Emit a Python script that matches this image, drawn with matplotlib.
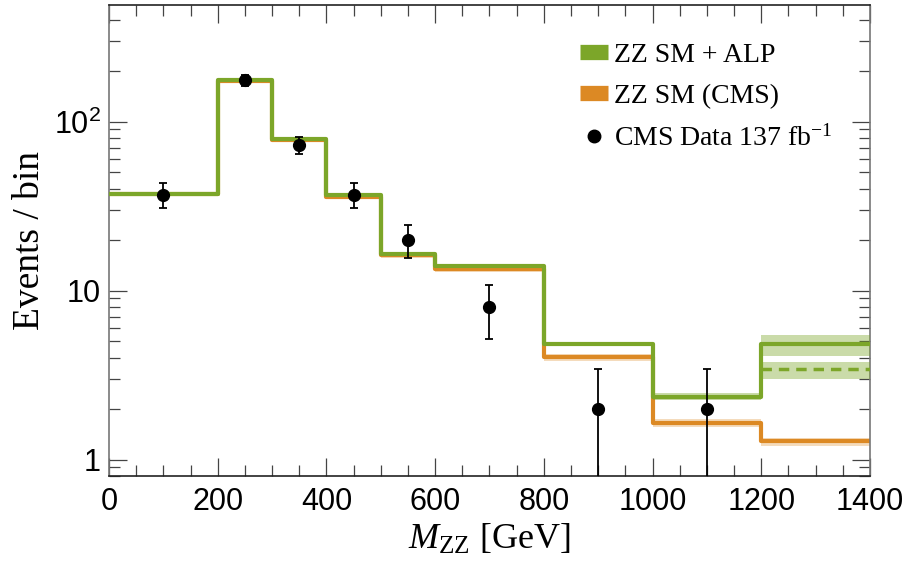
import numpy as np
import matplotlib.pyplot as plt
from matplotlib.lines import Line2D
from matplotlib.ticker import MultipleLocator, FixedLocator, LogLocator, NullFormatter

plt.rcParams['mathtext.fontset'] = 'custom'
plt.rcParams['mathtext.rm'] = 'Liberation Serif'
plt.rcParams['mathtext.it'] = 'Liberation Serif:italic'
plt.rcParams['mathtext.sf'] = 'Liberation Sans'

# bin edges and contents
edges = [0, 200, 300, 400, 500, 600, 800, 1000, 1200, 1400]
sm_alp = [37.5, 177, 79, 36.6, 16.5, 13.9, 4.8, 2.35, 4.8]
sm_alp_dashed = 3.43
sm_cms = [37.2, 175, 78, 36.0, 16.2, 13.5, 4.04, 1.65, 1.28]

# uncertainty bands (relative half width)
cms_band = [0.03, 0.03, 0.03, 0.03, 0.04, 0.04, 0.05, 0.055, 0.055]
alp_band_last = (4.09, 5.44)
alp_band_dashed = (2.99, 3.77)
alp_band_1000 = (2.24, 2.47)

# data
data_x = [100, 250, 350, 450, 550, 700, 900, 1100]
data_y = [37, 176, 73, 37, 20, 8, 2, 2]

GREEN = '#7CA629'
ORANGE = '#DC8924'

fig = plt.figure(figsize=(9.15, 5.73), dpi=100)
ax = fig.add_axes([0.1191, 0.1693, 0.8317, 0.822])

xs = np.array(edges, dtype=float)

def steps(vals):
    return np.append(vals, vals[-1])

# orange band and line
cms = np.array(sm_cms)
cb = np.array(cms_band)
for i in range(len(cms)):
    ax.fill_between([xs[i], xs[i + 1]], cms[i] * (1 - cb[i]), cms[i] * (1 + cb[i]),
                    color=ORANGE, alpha=0.3, lw=0, zorder=1)
ax.step(xs, steps(cms), where='post', color=ORANGE, lw=3, zorder=2)

# green bands
ax.fill_between([1000, 1200], *alp_band_1000, color=GREEN, alpha=0.4, lw=0, zorder=3)
ax.fill_between([1200, 1400], *alp_band_last, color=GREEN, alpha=0.4, lw=0, zorder=3)
ax.fill_between([1200, 1400], *alp_band_dashed, color=GREEN, alpha=0.4, lw=0, zorder=3)

ax.step(xs, steps(np.array(sm_alp)), where='post', color=GREEN, lw=3, zorder=4)
ax.plot([1200, 1400], [sm_alp_dashed, sm_alp_dashed], color=GREEN, lw=2.5,
        ls=(0, (3, 2)), zorder=4)

# data points with sqrt(N) errors
dy = np.sqrt(np.array(data_y, dtype=float))
ax.errorbar(data_x, data_y, yerr=dy, fmt='o', color='black', ms=8.5,
            elinewidth=1.3, capsize=3, capthick=1.3, zorder=6)

ax.set_yscale('log')
ax.set_xlim(0, 1400)
ax.set_ylim(0.8, 490)

ax.xaxis.set_major_locator(MultipleLocator(200))
ax.xaxis.set_minor_locator(MultipleLocator(50))
ax.yaxis.set_major_locator(FixedLocator([1, 10, 100]))
ax.yaxis.set_minor_locator(LogLocator(base=10, subs=np.arange(2, 10) * 0.1 * 10, numticks=20))
ax.yaxis.set_minor_formatter(NullFormatter())
ax.set_yticklabels(['1', '10', r'$\mathsf{10^2}$'])

ax.tick_params(which='both', direction='in', top=True, right=True, width=0.9,
               labelsize=22, colors='#444', labelcolor='black')
ax.tick_params(which='major', length=13)
ax.tick_params(which='minor', length=8)
for lab in ax.get_xticklabels() + ax.get_yticklabels():
    lab.set_fontfamily('Liberation Sans')
ax.tick_params(axis='x', pad=8)
ax.tick_params(axis='y', pad=6)

for side in ['left', 'right']:
    ax.spines[side].set_color('#777')
for side in ['top', 'bottom']:
    ax.spines[side].set_color('#222')
for s in ax.spines.values():
    s.set_linewidth(1.2)

ax.set_ylabel('Events / bin', fontfamily='Liberation Serif', fontsize=27, labelpad=5)
ax.set_xlabel(r'$M_{\mathrm{ZZ}}$ [GeV]', fontfamily='Liberation Serif', fontsize=26, labelpad=4)

handles = [
    Line2D([], [], color=GREEN, lw=11, solid_capstyle='butt'),
    Line2D([], [], color=ORANGE, lw=11, solid_capstyle='butt'),
    Line2D([], [], color='black', marker='o', ls='none', ms=9),
]
labels = ['ZZ SM + ALP', 'ZZ SM (CMS)', r'CMS Data 137 fb$^{-1}$']
leg = ax.legend(handles, labels, loc='upper left', bbox_to_anchor=(0.605, 0.944),
                frameon=False, prop={'family': 'Liberation Serif', 'size': 20},
                handlelength=1.0, handletextpad=0.2, labelspacing=0.57, borderaxespad=0)

fig.savefig('out.png', dpi=100)
